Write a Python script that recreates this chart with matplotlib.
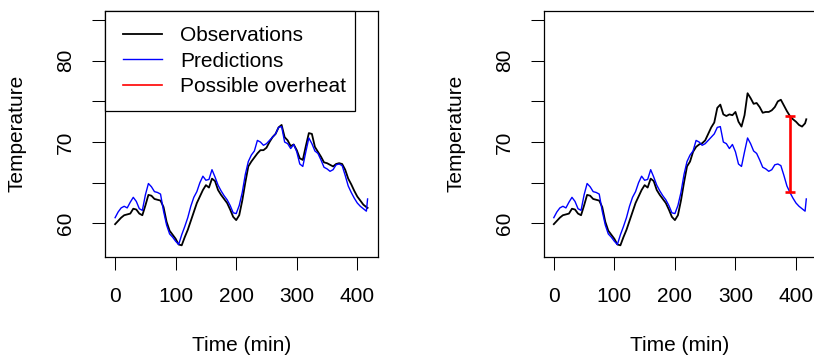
import matplotlib
matplotlib.use("Agg")
import matplotlib.pyplot as plt
from matplotlib.legend_handler import HandlerLine2D

# tiempo (min) cada 5 minutos, último punto en 417
tiempo = list(range(0, 416, 5)) + [417]

observaciones = [
    59.9, 60.3, 60.7, 61.0, 61.1, 61.2, 61.8, 61.7, 61.2, 61.0,
    62.2, 63.5, 63.4, 63.0, 62.9, 62.8, 62.0, 60.2, 59.1, 58.6,
    58.1, 57.4, 57.3, 58.3, 59.2, 60.3, 61.4, 62.5, 63.3, 64.1,
    64.7, 64.4, 65.5, 65.2, 64.1, 63.5, 63.0, 62.5, 61.7, 60.8,
    60.4, 61.0, 62.8, 65.0, 67.0, 67.6, 68.1, 68.6, 69.0, 69.0,
    69.3, 70.0, 70.6, 71.0, 71.8, 72.1, 70.6, 70.2, 69.5, 69.7,
    69.0, 68.0, 67.8, 69.5, 71.1, 71.0, 69.4, 68.8, 68.2, 67.5,
    67.4, 67.2, 67.0, 67.3, 67.4, 67.3, 66.6, 65.5, 64.8, 64.0,
    63.3, 62.8, 62.3, 62.0, 61.9,
]

predicciones = [
    60.7, 61.4, 61.9, 62.1, 61.9, 62.6, 63.2, 62.7, 61.8, 61.6,
    63.5, 64.9, 64.5, 63.9, 63.8, 63.6, 61.5, 59.8, 58.7, 58.3,
    57.8, 57.4, 58.6, 59.6, 60.7, 62.1, 63.2, 63.9, 65.0, 65.8,
    65.3, 65.4, 66.6, 65.7, 64.7, 64.0, 63.4, 62.9, 62.2, 61.3,
    61.2, 62.2, 63.8, 66.0, 67.6, 68.4, 68.9, 70.2, 70.0, 69.6,
    69.8, 70.2, 70.6, 71.0, 71.8, 71.9, 70.0, 69.8, 69.2, 69.7,
    68.8, 67.3, 67.0, 68.8, 70.5, 69.8, 68.9, 68.6, 67.8, 66.9,
    66.7, 66.4, 66.6, 67.2, 67.3, 67.1, 65.9, 64.6, 63.8, 63.1,
    62.5, 62.1, 61.8, 61.5, 63.0,
]

# observaciones con sobrecalentamiento (desde t=230)
observaciones_calor_cola = [
    68.8, 69.4, 69.7, 69.85,
    70.2, 71.0, 71.8, 72.4, 74.2, 74.6, 73.4, 73.2, 73.4, 73.3,
    73.7, 72.5, 71.9, 73.3, 76.0, 75.4, 74.7, 74.8, 74.3, 73.6,
    73.7, 73.7, 73.9, 74.3, 75.0, 75.2, 74.5, 73.8, 73.2, 72.8,
    72.5, 72.1, 71.9, 72.3, 72.8,
]
observaciones_calor = observaciones[:46] + observaciones_calor_cola

# posible sobrecalentamiento
t_calor = 390
calor_bajo = 63.8
calor_alto = 73.2

etiquetas = ["Observations", "Predictions", "Possible overheat"]

plt.rcParams["font.family"] = ["Liberation Sans", "DejaVu Sans"]
plt.rcParams["font.size"] = 15


def preparar_ejes(ax):
    ax.set_xlim(-16.7, 433.7)
    ax.set_ylim(55.9, 86.15)
    ax.set_xticks([0, 100, 200, 300, 400])
    ax.set_yticks([60, 65, 70, 75, 80, 85])
    ax.set_yticklabels(["60", "", "70", "", "80", ""], rotation=90, va="center")
    ax.tick_params(direction="out", length=9.6, width=0.75, pad=12, colors="black")
    for s in ax.spines.values():
        s.set_linewidth(0.9)
    ax.set_xlabel("Time (min)")
    ax.xaxis.label.set_va("center")
    ax.xaxis.set_label_coords(0.5, -0.359)
    ax.set_ylabel("Temperature")
    ax.yaxis.label.set_va("center")
    ax.yaxis.set_label_coords(-0.321, 0.5)


def graficar():
    fig = plt.figure(figsize=(8.14, 3.57), dpi=100)
    ancho = 272.7 / 814
    alto = 246 / 357
    abajo = (357 - 256.7) / 357
    ax1 = fig.add_axes([105 / 814, abajo, ancho, alto])
    ax2 = fig.add_axes([543.7 / 814, abajo, ancho, alto])

    # panel izquierdo
    l1, = ax1.plot(tiempo, observaciones, color="black", lw=1.3)
    l2, = ax1.plot(tiempo, predicciones, color="blue", lw=1.0)
    l3, = ax1.plot([], [], color="red", lw=1.2)
    preparar_ejes(ax1)
    leg = ax1.legend(
        [l1, l2, l3], etiquetas,
        loc="upper left", bbox_to_anchor=(0, 0, 250.3 / 272.7, 1),
        mode="expand", borderaxespad=0, borderpad=0.75,
        handlelength=1.99, handletextpad=0.88, labelspacing=0.30,
        fancybox=False, framealpha=1, edgecolor="black",
        handler_map={matplotlib.lines.Line2D: HandlerLine2D(xpad=0.13)},
    )
    leg.get_frame().set_linewidth(0.9)

    # panel derecho
    ax2.plot(tiempo, observaciones_calor, color="black", lw=1.3)
    ax2.plot(tiempo, predicciones, color="blue", lw=1.0)
    medio = (calor_alto + calor_bajo) / 2
    ax2.errorbar([t_calor], [medio], yerr=[[medio - calor_bajo], [calor_alto - medio]],
                 fmt="none", ecolor="red", elinewidth=1.9, capsize=3.6, capthick=1.9)
    preparar_ejes(ax2)

    fig.savefig("out.png", dpi=100)


if __name__ == "__main__":
    graficar()
